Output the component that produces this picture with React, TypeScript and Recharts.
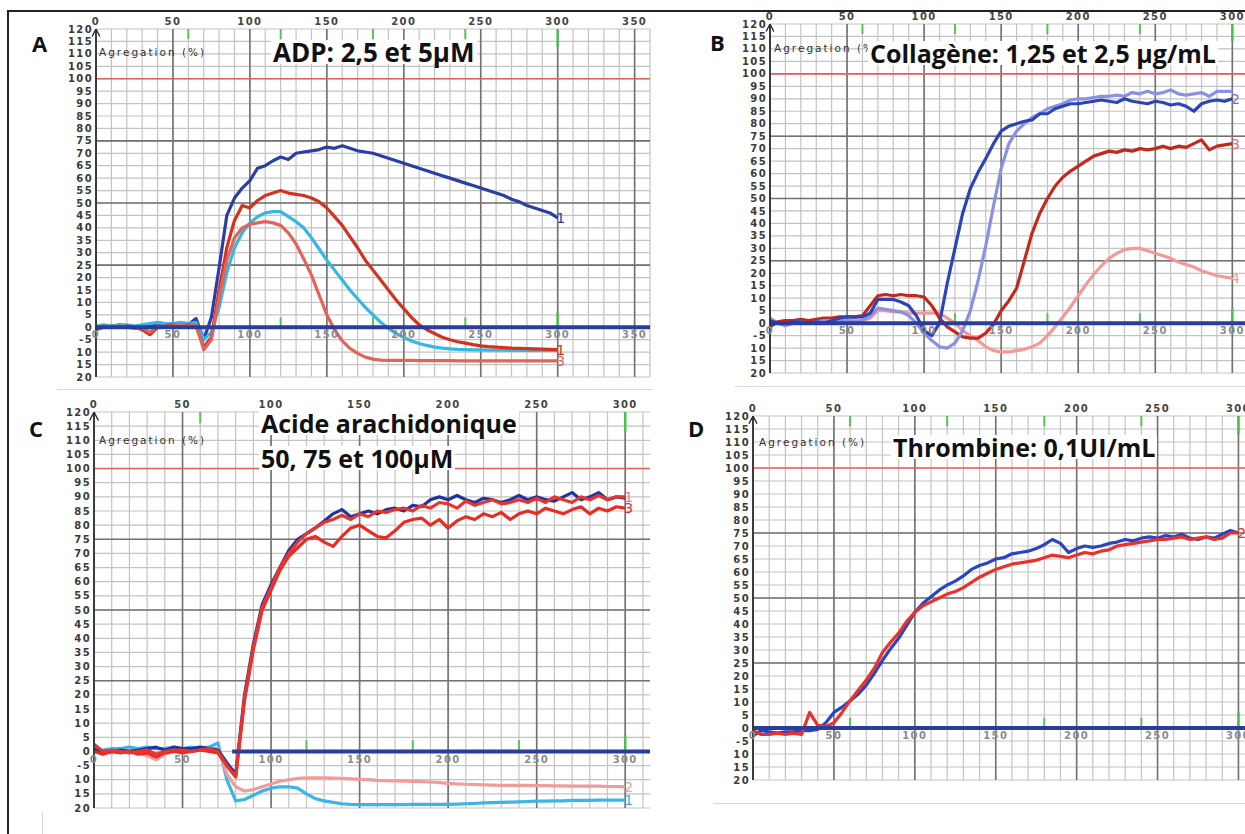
import React from 'react';
import {
  LineChart,
  Line,
  XAxis,
  YAxis,
  CartesianGrid,
  ReferenceLine,
  ReferenceDot,
} from 'recharts';

// time axis shared by all four tracings (s)
const seconds = [
  0, 5, 10, 15, 20, 25, 30, 35, 40, 45, 50, 55, 60, 65, 70, 75, 80, 85, 90, 95,
  100, 105, 110, 115, 120, 125, 130, 135, 140, 145, 150, 155, 160, 165, 170, 175,
  180, 185, 190, 195, 200, 205, 210, 215, 220, 225, 230, 235, 240, 245, 250, 255,
  260, 265, 270, 275, 280, 285, 290, 295, 300,
];

const yTicks = [
  120, 115, 110, 105, 100, 95, 90, 85, 80, 75, 70, 65, 60, 55, 50, 45, 40, 35,
  30, 25, 20, 15, 10, 5, 0, -5, -10, -15, -20,
];
const majorY = [75, 50, 25];
const topLabelsA = [0, 50, 100, 150, 200, 250, 300, 350];
const topLabels = [0, 50, 100, 150, 200, 250, 300];

// A - ADP 2,5 et 5 µM
const adpBlue = [
  0, 0.5, 0, 1, 0.5, 0, 0.5, 1, 1.5, 1.5,
  1, 1.5, 1, 3.5, -5, 4, 24, 45, 52, 56,
  59, 64, 65, 67, 68.5, 67.5, 70, 70.5, 71, 71.5,
  72.5, 72, 73, 72, 71, 70.5, 70, 69, 68, 67,
  66, 65, 64, 63, 62, 61, 60, 59, 58, 57,
  56, 55, 54, 53, 51.5, 50.5, 49, 48, 47, 46,
  44,
];
const adpCyan = [
  0.5, 1, 0.5, 1, 1, 0.5, 1, 1.5, 2, 1.5,
  1.5, 2, 1.5, 2, -5, -2, 8, 22, 32, 38,
  42, 44.5, 46, 46.5, 46.5, 44.5, 42.5, 40, 36, 31.5,
  27, 23, 19, 15, 11.5, 8, 5, 2, -0.5, -2.5,
  -4, -5.5, -6.5, -7.3, -8, -8.4, -8.7, -8.9, -9, -9.1,
  -9.1, -9.2, -9.2, -9.2, -9.3, -9.3, -9.3, -9.3, -9.3, -9.3,
  -9.3,
];
const adpRed = [
  -1, 0, 0.5, 0, 0.5, 0, -1, -3, 0, 0.5,
  1, 0.5, 1, 0.5, -8, -4, 15, 32, 43, 49,
  48, 51, 53, 54, 55, 54, 53.5, 53, 52, 50.5,
  48, 44.5, 41, 36.5, 32, 27, 23, 19, 15, 11,
  7.5, 4, 1, -1, -2.5, -4, -5, -5.8, -6.4, -7,
  -7.5, -7.8, -8, -8.2, -8.4, -8.5, -8.6, -8.7, -8.8, -8.9,
  -9,
];
const adpSalmon = [
  0, 0.5, 0, 0.5, 0, -0.5, 0, -2, 0.5, 0,
  0.5, 1, 0.5, 1, -9, -5, 12, 27, 36, 40,
  41.5, 42, 42.5, 42, 41, 38, 33.5, 27.5, 21, 13,
  5, -1, -5.5, -8.5, -10.5, -12, -12.8, -13.2, -13.3, -13.3,
  -13.3, -13.3, -13.4, -13.4, -13.4, -13.4, -13.4, -13.5, -13.5, -13.5,
  -13.5, -13.5, -13.5, -13.5, -13.5, -13.5, -13.5, -13.5, -13.5, -13.5,
  -13.5,
];

// B - Collagène 1,25 et 2,5 µg/mL
const colBlue = [
  1, 0, 0, 0.5, 0.5, 0, 0.5, 0, 1, 2,
  2.5, 2.5, 2.5, 4, 9.5, 9.5, 9.5, 8.5, 7, 3,
  -3, -5, 0, 16, 30, 44, 54, 60.5, 66, 72,
  77, 79, 80, 81, 81.5, 84, 84, 86, 87, 88,
  88, 88.5, 89, 89.5, 89, 88.5, 90, 89, 88.5, 88,
  89, 88.5, 87.5, 88, 87, 85, 88, 89, 89.5, 89,
  90,
];
const colLavender = [
  2, 0, -1, 0, 0.5, 0, 0.5, 1, 1, 0.5,
  1, 0.5, 1, 3, 6, 5.5, 5, 4.5, 3, 0,
  -4, -7, -9.5, -10, -8, -3, 5, 17, 31, 47,
  62, 72, 77, 80, 82.5, 84, 86, 87, 88, 89.5,
  90, 90, 90.5, 91, 91, 91.5, 91, 92.5, 92, 93,
  92, 92.5, 93.5, 92, 91.5, 92, 92.5, 91, 93, 93,
  93,
];
const colRed = [
  -1.5, 0.5, 1, 1, 1.5, 1, 1.5, 2, 2, 2.5,
  2.5, 2.5, 3, 7, 11, 11.5, 11, 11.5, 11, 11,
  10.5, 7, 2, -1.5, -3.5, -5.5, -6, -6, -4, -0.5,
  5, 9, 14, 25, 36, 44, 50, 55, 58.5, 61,
  63, 65, 67, 68, 69, 68.5, 69.5, 69, 70, 69.5,
  70, 71, 70, 71, 70.5, 72, 73.5, 69.5, 71, 71.5,
  72,
];
const colPink = [
  0, 0.5, 1, 0.5, 1, 0.5, 1, 0.5, 0, 1,
  1, 1.5, 1, 2, 5, 5, 4.5, 4.5, 4, 4,
  4, 4, 4, 2, 0, -3, -5, -7, -9.5, -11,
  -11.5, -11.5, -11, -10.5, -9.5, -8, -5, -1.5, 2.5, 6.5,
  11, 15.5, 19.5, 23, 26, 28, 29.5, 30, 30, 29,
  28, 27, 26, 24.5, 23.5, 22.5, 21, 20, 19, 18.5,
  18,
];

// C - Acide arachidonique 50, 75 et 100 µM
const aaBlue = [
  1, -0.5, 0, 0.5, 0, 0.5, 1, 1.5, 0.5, 1.5,
  1, 1, 1.5, 1, 0.5, -4, -8, 20, 38, 52,
  59, 65, 71, 75, 77, 79, 81.5, 84, 85.5, 83,
  84, 85, 84, 85.5, 86, 85, 87, 86.5, 89, 90,
  89, 90.5, 89, 88, 89.5, 89, 88, 89, 90.5, 89,
  90, 89, 88.5, 90, 91.5, 89, 90, 91.5, 89, 90,
  89.5,
];
const aaRed = [
  2.5, 0, 0.5, 0, -0.5, 0, 0.5, -1, 0, 0.5,
  0.5, 0, 0.5, 1, 0, -5, -9, 19, 37, 51,
  58, 65, 70, 74, 77, 79, 81, 82, 83.5, 82,
  84, 83, 85, 84.5, 85.5, 86, 85, 87, 86, 88,
  87.5, 86, 88.5, 87, 88, 89, 87.5, 88, 89, 88,
  89.5, 88, 90, 89, 88, 90, 89, 90.5, 89, 90,
  90,
];
const aaRedLow = [
  0, -1, 0, -0.5, 0, -1, -0.5, -2, -0.5, 0,
  -0.5, 0, 0.5, 0, -0.5, -5, -9, 18, 36, 50,
  57, 64, 69, 72, 75, 76, 74, 72.5, 76, 79,
  80, 78, 76, 75.5, 78, 81, 82, 82.5, 80, 82,
  79, 81.5, 83, 82, 84, 83, 84.5, 82, 84, 85,
  84, 86, 85, 84, 85.5, 86.5, 84, 86, 85, 86.5,
  86,
];
const aaPink = [
  0.5, 0, -0.5, 0, 0.5, -0.5, -1.5, -3, -1, 0,
  0.5, 0, 0.5, 1, 1, -8, -12.5, -14, -13.5, -12.5,
  -11.5, -10.5, -10, -9.5, -9.3, -9.3, -9.3, -9.4, -9.5, -9.7,
  -9.9, -10, -10.2, -10.3, -10.4, -10.5, -10.6, -10.7, -10.8, -11,
  -11.3, -11.5, -11.6, -11.7, -11.8, -11.9, -12, -12, -12, -12,
  -12.1, -12.1, -12.2, -12.2, -12.3, -12.3, -12.3, -12.3, -12.4, -12.4,
  -12.5,
];
const aaCyan = [
  0.5, 0.5, 1, 1, 1.5, 1, 1.5, 1, 1, 1.5,
  1, 1.5, 1, 1.5, 3, -10, -17.5, -17, -15.5, -14,
  -13, -12.5, -12.5, -13, -15, -16.7, -17.5, -18, -18.5, -18.7,
  -18.8, -18.8, -18.8, -18.8, -18.8, -18.8, -18.7, -18.7, -18.7, -18.7,
  -18.7, -18.6, -18.5, -18.4, -18.2, -18.1, -18, -17.9, -17.8, -17.7,
  -17.6, -17.6, -17.5, -17.5, -17.3, -17.3, -17.3, -17.2, -17.2, -17.2,
  -17.2,
];

// D - Thrombine 0,1 UI/mL
const thrBlue = [
  -3, -1, -1.5, -2, -1.5, -1.5, -1, -1, -0.5, 2,
  6, 8, 10.5, 13, 16.5, 21, 26, 30.5, 34.5, 39.5,
  44.5, 48, 50.5, 53, 55, 56.5, 58.5, 61, 62.5, 63.5,
  65, 65.5, 67, 67.5, 68, 69, 70.5, 72.5, 71, 67.5,
  69, 70, 69.5, 70, 71, 71.5, 72.5, 72, 73, 73.5,
  73, 74, 73.5, 74.5, 73, 72.5, 73.5, 73, 74.5, 76,
  75,
];
const thrRed = [
  -1, -2.5, -2.5, -2, -2.5, -2, -2.5, 6, 1, 0.5,
  2, 6, 10.5, 14.5, 18.5, 23, 29, 33, 36.5, 41,
  44.5, 47, 48.5, 50, 51.5, 52.5, 54, 56, 58, 59.5,
  61, 62, 63, 63.5, 64, 64.5, 65.5, 66.5, 66, 65.5,
  66.5, 67.5, 67, 68, 68.5, 70, 70.5, 71, 71.5, 72,
  72.5, 72.5, 73, 73.5, 72.5, 73, 73.5, 72.5, 73, 75,
  75,
];

const Y_W = 44;
const X_H = 20;

const range = (a: number, b: number, step: number) => {
  const out: number[] = [];
  for (let v = a; v <= b + 1e-9; v += step) out.push(v);
  return out;
};

type Series = {
  key: string;
  values: number[];
  color: string;
  end?: string;
  endColor?: string;
};

type PanelProps = {
  left: number;
  top: number;
  plotW: number;
  plotH: number;
  xMax: number;
  xLabels: number[];
  topGreen: number[];
  baseGreen: number[];
  baseFrom: number;
  series: Series[];
};

const axisFont = { fontSize: 10, fontWeight: 700, fontFamily: 'DejaVu Sans', letterSpacing: 1.4 };

const Panel = ({
  left,
  top,
  plotW,
  plotH,
  xMax,
  xLabels,
  topGreen,
  baseGreen,
  baseFrom,
  series,
}: PanelProps) => {
  const rows = seconds.map((t, i) => {
    const row: any = { t };
    series.forEach((s) => {
      row[s.key] = s.values[i];
    });
    return row;
  });

  const minorX = range(0, xMax, 10);
  const majorX = range(0, xMax, 50);

  return (
    <div style={{ position: 'absolute', left: left - Y_W, top: top - X_H }}>
      <LineChart
        width={Y_W + plotW + 10}
        height={X_H + plotH + 10}
        data={rows}
        margin={{ top: 0, right: 10, bottom: 10, left: 0 }}
      >
        <CartesianGrid
          horizontalValues={yTicks}
          verticalValues={minorX}
          stroke="#c3c3c3"
          strokeWidth={1.2}
        />
        <CartesianGrid
          horizontalValues={majorY}
          verticalValues={majorX}
          stroke="#727272"
          strokeWidth={1.6}
        />
        <XAxis
          dataKey="t"
          type="number"
          orientation="top"
          height={X_H}
          domain={[0, xMax]}
          ticks={xLabels}
          interval={0}
          axisLine={false}
          tickLine={false}
          tickSize={0}
          tickMargin={4}
          tick={{ fill: '#444', ...axisFont }}
          allowDataOverflow
        />
        <YAxis
          type="number"
          width={Y_W}
          domain={[-20, 120]}
          ticks={yTicks}
          interval={0}
          tickLine={false}
          tickSize={0}
          tickMargin={3}
          axisLine={{ stroke: '#2a2a2a', strokeWidth: 1.6 }}
          tickFormatter={(v: number) => (v < -5 ? String(-v) : String(v))}
          tick={{ fill: '#3a3a3a', ...axisFont }}
          allowDataOverflow
        />
        <ReferenceLine y={100} stroke="#e4605a" strokeWidth={1.6} />
        <ReferenceLine
          segment={[{ x: 0, y: 120 }, { x: -2.5, y: 117 }]}
          stroke="#2a2a2a"
          strokeWidth={1.4}
          ifOverflow="visible"
        />
        <ReferenceLine
          segment={[{ x: 0, y: 120 }, { x: 2.5, y: 117 }]}
          stroke="#2a2a2a"
          strokeWidth={1.4}
        />
        {topGreen.map((g) => (
          <ReferenceLine
            key={'tg' + g}
            segment={[{ x: g, y: 120 }, { x: g, y: 116 }]}
            stroke="#58c458"
            strokeWidth={2}
          />
        ))}
        {baseGreen.map((g) => (
          <ReferenceLine
            key={'bg' + g}
            segment={[{ x: g, y: 0 }, { x: g, y: 4 }]}
            stroke="#58c458"
            strokeWidth={2}
          />
        ))}
        <ReferenceLine
          segment={[{ x: 300, y: 120 }, { x: 300, y: 113 }]}
          stroke="#4cc04c"
          strokeWidth={2.5}
        />
        <ReferenceLine
          segment={[{ x: 300, y: 0 }, { x: 300, y: 6 }]}
          stroke="#4cc04c"
          strokeWidth={2.5}
        />
        {series.map((s) => (
          <Line
            key={s.key}
            type="linear"
            dataKey={s.key}
            stroke={s.color}
            strokeWidth={3.2}
            strokeLinejoin="round"
            dot={false}
            isAnimationActive={false}
          />
        ))}
        <ReferenceLine
          segment={[{ x: baseFrom, y: 0 }, { x: xMax, y: 0 }]}
          stroke="#2b3d9c"
          strokeWidth={4}
        />
        {xLabels.map((v) => (
          <ReferenceDot
            key={'bl' + v}
            x={v}
            y={0}
            r={0}
            fill="none"
            stroke="none"
            label={{
              value: String(v),
              position: 'bottom',
              offset: 4,
              fill: '#8c8c8c',
              ...axisFont,
            }}
          />
        ))}
        {series
          .filter((s) => s.end)
          .map((s) => (
            <ReferenceDot
              key={'end' + s.key}
              x={302}
              y={s.values[s.values.length - 1]}
              r={0}
              fill="none"
              stroke="none"
              label={{
                value: s.end,
                position: 'center',
                fill: s.endColor || s.color,
                fontSize: 14,
                fontFamily: 'DejaVu Sans',
              }}
            />
          ))}
      </LineChart>
    </div>
  );
};

const titleStyle: React.CSSProperties = {
  position: 'absolute',
  fontFamily: '"Open Sans", Lato, sans-serif',
  fontWeight: 700,
  fontSize: 25,
  lineHeight: '22px',
  color: '#111',
  background: '#fff',
  whiteSpace: 'nowrap',
  padding: '1px 2px',
};

const letterStyle: React.CSSProperties = {
  position: 'absolute',
  fontFamily: '"Open Sans", Lato, sans-serif',
  fontWeight: 700,
  fontSize: 22,
  lineHeight: '24px',
  color: '#111',
};

const agrStyle: React.CSSProperties = {
  position: 'absolute',
  fontFamily: '"DejaVu Sans", sans-serif',
  fontSize: 10.5,
  letterSpacing: 2,
  lineHeight: '12px',
  color: '#333',
  whiteSpace: 'nowrap',
};

const App = () => {
  return (
    <div
      style={{
        position: 'fixed',
        left: 0,
        top: 0,
        width: 1245,
        height: 834,
        background: '#fff',
        overflow: 'hidden',
      }}
    >
      {/* panel frames */}
      <div style={{ position: 'absolute', left: 57, top: 389, width: 596, height: 1, background: '#d5dae0' }} />
      <div style={{ position: 'absolute', left: 735, top: 386, width: 510, height: 1, background: '#d5dae0' }} />
      <div style={{ position: 'absolute', left: 42, top: 812, width: 1, height: 22, background: '#d5dae0' }} />
      <div style={{ position: 'absolute', left: 714, top: 803, width: 531, height: 1, background: '#d5dae0' }} />

      <Panel
        left={96}
        top={29}
        plotW={554}
        plotH={348}
        xMax={360}
        xLabels={topLabelsA}
        topGreen={[60, 120, 180, 240]}
        baseGreen={[120, 180, 240]}
        baseFrom={0}
        series={[
          { key: 'blue', values: adpBlue, color: '#2a3ea6', end: '1' },
          { key: 'cyan', values: adpCyan, color: '#35b7e3' },
          { key: 'red', values: adpRed, color: '#d6301f', end: '1' },
          { key: 'salmon', values: adpSalmon, color: '#e3625c', end: '3' },
        ]}
      />
      <Panel
        left={770}
        top={24}
        plotW={524}
        plotH={349}
        xMax={340}
        xLabels={topLabels}
        topGreen={[60, 120, 180, 240]}
        baseGreen={[120, 180, 240]}
        baseFrom={0}
        series={[
          { key: 'pink', values: colPink, color: '#f29a98', end: '4' },
          { key: 'red', values: colRed, color: '#c4281c', end: '3', endColor: '#e07070' },
          { key: 'lav', values: colLavender, color: '#8b90e2' },
          { key: 'blue', values: colBlue, color: '#2b45b8', end: '2', endColor: '#6a72d8' },
        ]}
      />
      <Panel
        left={94}
        top={412}
        plotW={556}
        plotH={396}
        xMax={314}
        xLabels={topLabels}
        topGreen={[60]}
        baseGreen={[120, 180, 240]}
        baseFrom={78}
        series={[
          { key: 'cyan', values: aaCyan, color: '#3ab5e8', end: '1' },
          { key: 'pink', values: aaPink, color: '#f29c9a', end: '2' },
          { key: 'blue', values: aaBlue, color: '#2234a2' },
          { key: 'redLow', values: aaRedLow, color: '#e62c24', end: '3' },
          { key: 'red', values: aaRed, color: '#e8342c', end: '1', endColor: '#e88080' },
        ]}
      />
      <Panel
        left={753}
        top={416}
        plotW={534}
        plotH={364}
        xMax={330}
        xLabels={topLabels}
        topGreen={[60, 120, 180, 240]}
        baseGreen={[60, 180, 240]}
        baseFrom={0}
        series={[
          { key: 'blue', values: thrBlue, color: '#2a44c2' },
          { key: 'red', values: thrRed, color: '#ec302a', end: '2' },
        ]}
      />

      {/* outer frame */}
      <div style={{ position: 'absolute', left: 8, top: 10, width: 1237, height: 2, background: '#222' }} />
      <div style={{ position: 'absolute', left: 7, top: 10, width: 2, height: 824, background: '#222' }} />

      {/* texts */}
      <div style={{ ...agrStyle, left: 99, top: 46 }}>Agregation (%)</div>
      <div style={{ ...agrStyle, left: 774, top: 42 }}>Agregation (%)</div>
      <div style={{ ...agrStyle, left: 99, top: 434 }}>Agregation (%)</div>
      <div style={{ ...agrStyle, left: 759, top: 436 }}>Agregation (%)</div>

      <div style={{ ...letterStyle, left: 32, top: 31 }}>A</div>
      <div style={{ ...letterStyle, left: 710, top: 30 }}>B</div>
      <div style={{ ...letterStyle, left: 29, top: 416 }}>C</div>
      <div style={{ ...letterStyle, left: 688, top: 416 }}>D</div>

      <div style={{ ...titleStyle, left: 271, top: 40, fontSize: 26 }}>ADP: 2,5 et 5µM</div>
      <div style={{ ...titleStyle, left: 868, top: 41 }}>Collagène: 1,25 et 2,5 µg/mL</div>
      <div style={{ ...titleStyle, left: 259, top: 411 }}>Acide arachidonique</div>
      <div style={{ ...titleStyle, left: 259, top: 446 }}>50, 75 et 100µM</div>
      <div style={{ ...titleStyle, left: 891, top: 435 }}>Thrombine: 0,1UI/mL</div>
    </div>
  );
};

export default App;
